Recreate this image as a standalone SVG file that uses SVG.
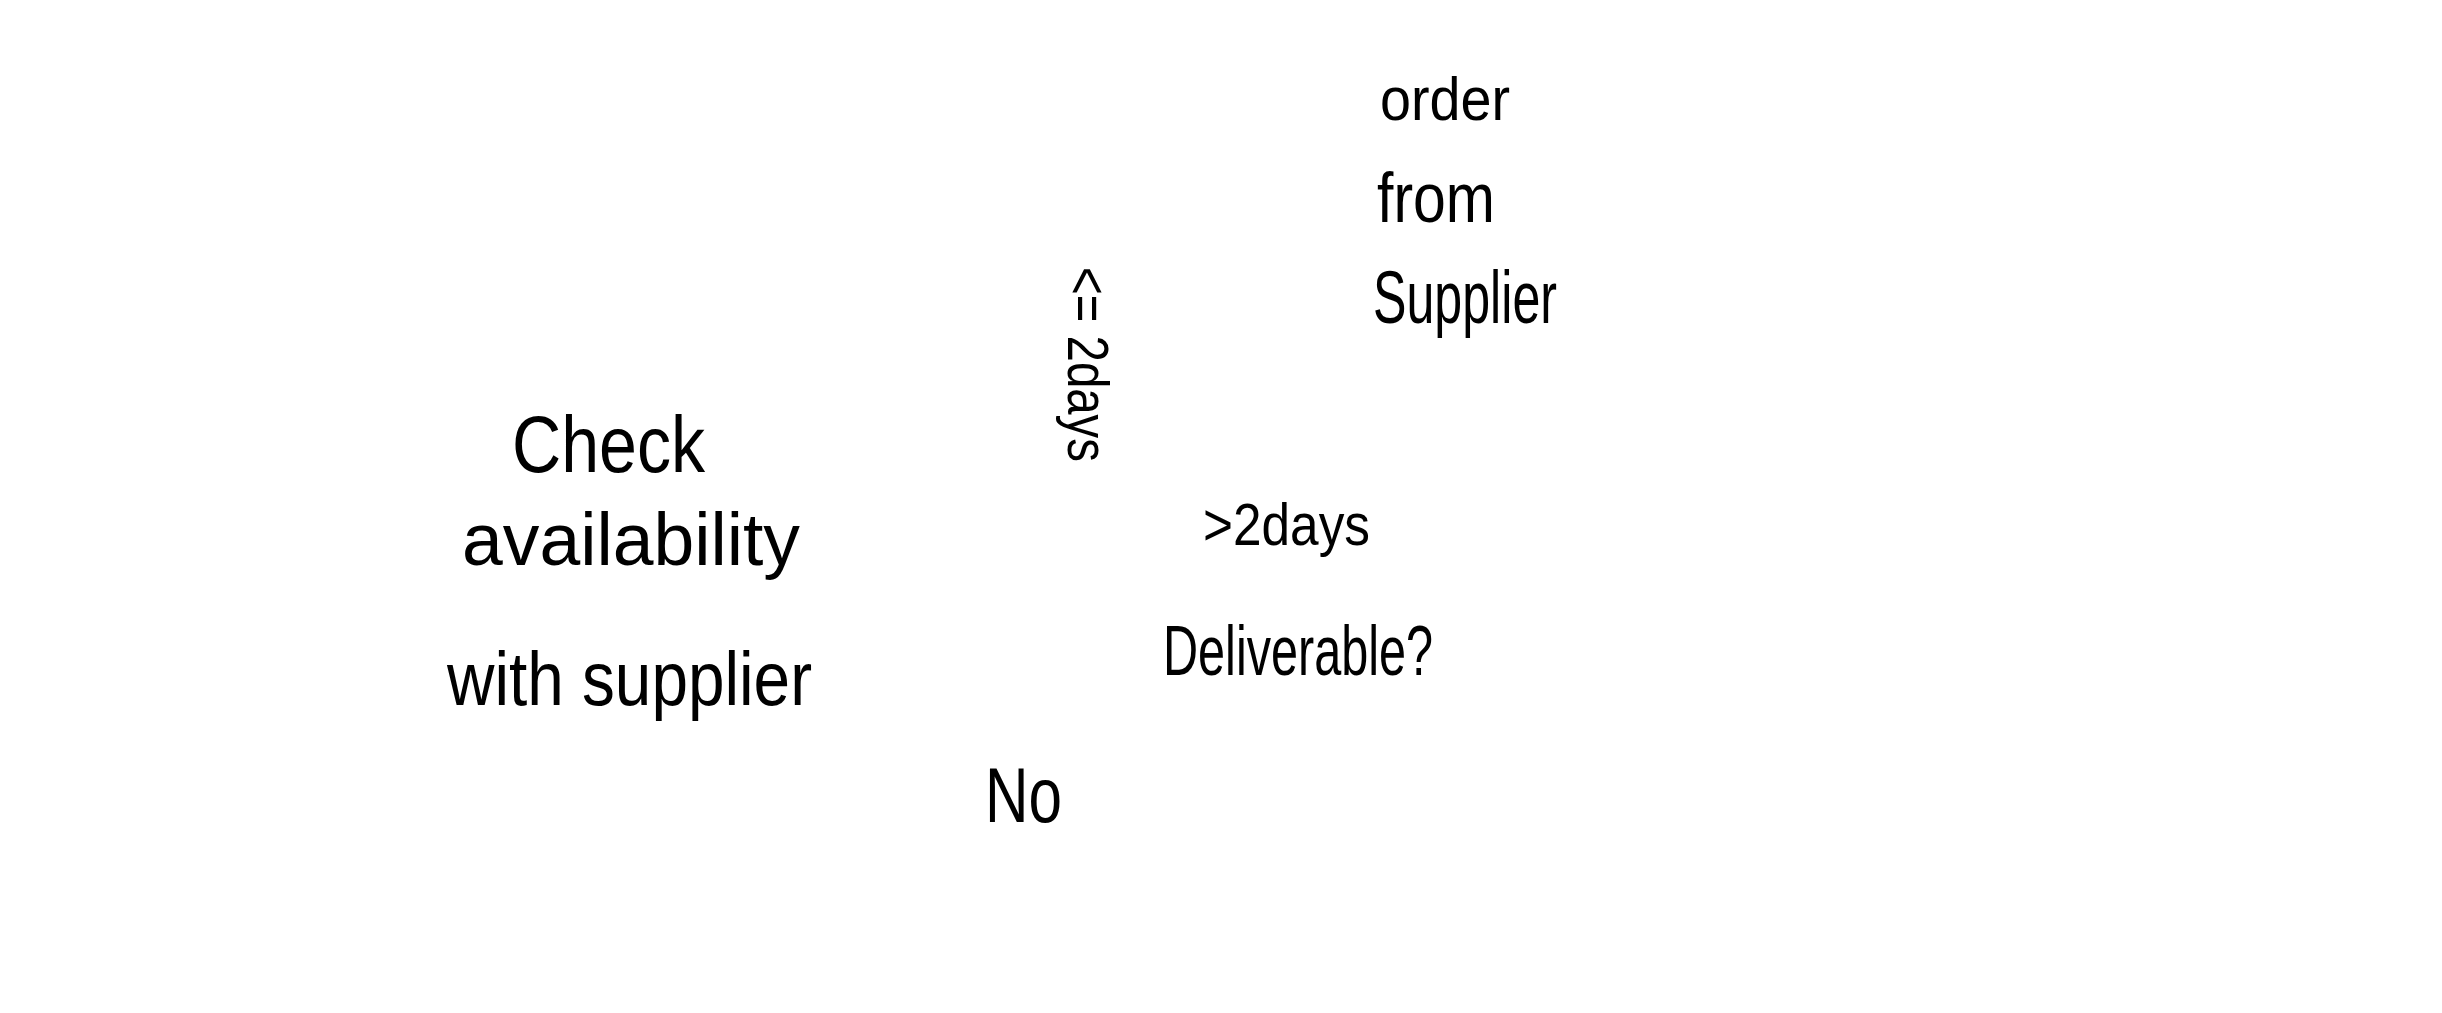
<svg xmlns="http://www.w3.org/2000/svg" width="2442" height="1013" viewBox="0 0 2442 1013">
<style>
text { font-family: "Liberation Sans", Arial, sans-serif; fill: #000; }
</style>
<rect x="0" y="0" width="2442" height="1013" fill="#fff"/>
<g id="node-check-availability">
<text x="512" y="472" font-size="80" textLength="193" lengthAdjust="spacingAndGlyphs">Check</text>
<text x="462" y="565" font-size="74" textLength="338" lengthAdjust="spacingAndGlyphs">availability</text>
<text x="447" y="705" font-size="76" textLength="365" lengthAdjust="spacingAndGlyphs">with supplier</text>
</g>
<g id="node-order-from-supplier">
<text x="1380" y="120" font-size="62" textLength="130" lengthAdjust="spacingAndGlyphs">order</text>
<text x="1377" y="222" font-size="70" textLength="118" lengthAdjust="spacingAndGlyphs">from</text>
<text x="1373" y="323" font-size="74" textLength="184" lengthAdjust="spacingAndGlyphs">Supplier</text>
</g>
<g id="node-deliverable">
<text x="1163" y="675" font-size="70" textLength="270" lengthAdjust="spacingAndGlyphs">Deliverable?</text>
</g>
<g id="node-no">
<text x="985" y="822" font-size="78" textLength="77" lengthAdjust="spacingAndGlyphs">No</text>
</g>
<g id="connectors">
<text id="label-le-2days" x="1068" y="267" font-size="58" textLength="195" lengthAdjust="spacingAndGlyphs" transform="rotate(90 1068 267)">&lt;= 2days</text>
<text id="label-gt-2days" x="1203" y="545" font-size="60" textLength="167" lengthAdjust="spacingAndGlyphs">&gt;2days</text>
</g>
</svg>
